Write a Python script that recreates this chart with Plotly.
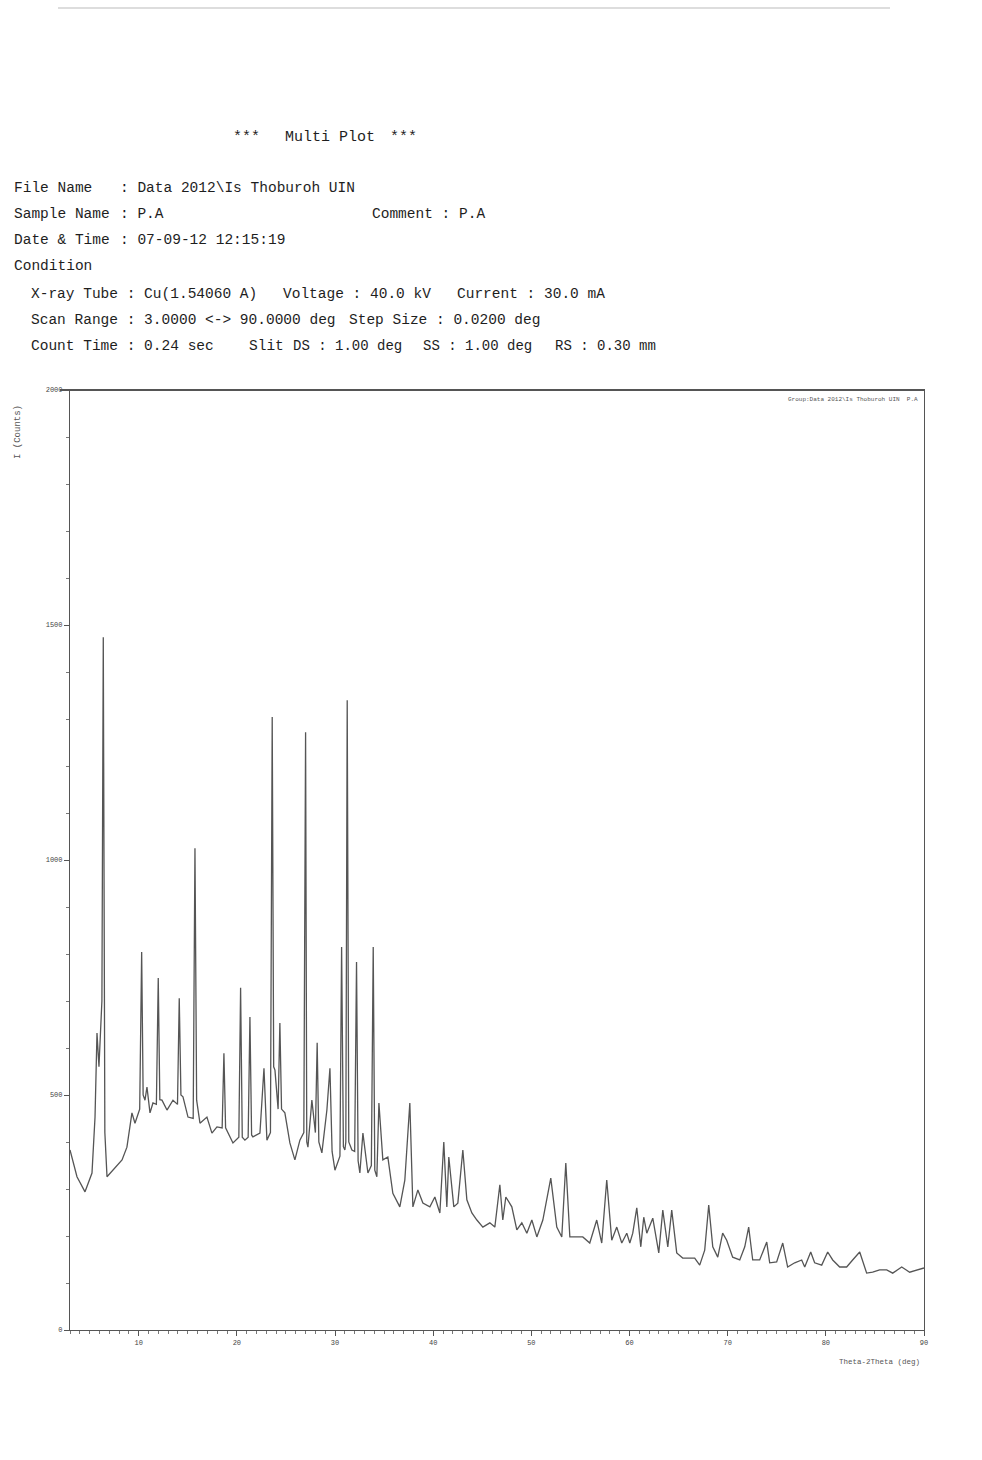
import plotly.graph_objects as go

# XRD scan, Cu K-alpha, 3-90 deg 2-theta
two_theta = [
    3.00, 3.20, 3.71, 4.53, 5.24, 5.55, 5.75, 5.95, 6.25, 6.39, 6.55, 6.77,
    7.38, 8.30, 8.80, 9.31, 9.62, 10.10, 10.30, 10.45, 10.64, 10.84, 11.15,
    11.45, 11.80, 11.99, 12.15, 12.37, 12.88, 13.49, 13.95, 14.13, 14.30,
    14.51, 15.02, 15.55, 15.73, 15.90, 16.24, 16.95, 17.46, 17.97, 18.50,
    18.68, 18.85, 19.09, 19.60, 20.20, 20.38, 20.55, 20.82, 21.15, 21.33,
    21.50, 21.63, 22.35, 22.76, 23.06, 23.42, 23.60, 23.75, 23.88, 24.20,
    24.38, 24.55, 24.89, 25.40, 25.91, 26.42, 26.82, 27.00, 27.12, 27.24,
    27.64, 28.00, 28.18, 28.35, 28.66, 29.17, 29.48, 29.70, 29.99, 30.50,
    30.67, 30.85, 31.00, 31.10, 31.24, 31.40, 31.72, 32.00, 32.19, 32.35,
    32.53, 32.84, 33.35, 33.70, 33.89, 34.05, 34.26, 34.47, 34.87, 35.38,
    35.89, 36.60, 37.11, 37.62, 37.93, 38.44, 38.95, 39.66, 40.17, 40.68,
    41.08, 41.39, 41.59, 42.10, 42.51, 43.02, 43.43, 43.94, 44.45, 45.06,
    45.77, 46.28, 46.79, 47.09, 47.40, 48.01, 48.52, 49.03, 49.54, 50.05,
    50.56, 51.17, 51.98, 52.59, 53.10, 53.51, 53.92, 54.63, 55.24, 55.95,
    56.66, 57.17, 57.68, 58.19, 58.70, 59.21, 59.72, 60.03, 60.33, 60.74,
    61.15, 61.45, 61.76, 62.37, 62.98, 63.39, 63.90, 64.30, 64.81, 65.42,
    66.14, 66.64, 67.15, 67.66, 68.07, 68.48, 68.99, 69.49, 69.90, 70.51,
    71.23, 71.74, 72.14, 72.55, 73.26, 73.98, 74.28, 74.99, 75.61, 76.11,
    76.83, 77.54, 77.85, 78.46, 78.86, 79.58, 80.19, 80.70, 81.41, 82.12,
    82.73, 83.45, 84.16, 84.77, 85.48, 86.20, 86.81, 87.73, 88.54, 89.25,
    90.00,
]
counts = [
    383, 368, 326, 294, 334, 453, 632, 560, 700, 1474, 420, 326,
    340, 362, 389, 462, 440, 470, 804, 500, 489, 517, 462,
    483, 480, 749, 490, 489, 468, 489, 480, 706, 500,
    496, 453, 450, 1025, 489, 440, 453, 419, 432, 430,
    589, 430, 419, 398, 410, 728, 410, 404, 410, 666,
    415, 411, 419, 557, 404, 420, 1304, 560, 553, 470,
    653, 470, 462, 398, 362, 404, 420, 1272, 400, 389,
    489, 420, 611, 400, 377, 468, 557, 380, 340, 370,
    815, 390, 383, 400, 1340, 400, 383, 380, 783, 360,
    334, 419, 334, 350, 815, 340, 326, 483, 362, 368,
    291, 262, 319, 483, 262, 298, 270, 262, 283, 249,
    400, 262, 368, 262, 270, 383, 277, 249, 234, 219,
    228, 219, 309, 234, 283, 262, 213, 228, 206, 234,
    198, 234, 323, 219, 198, 355, 198, 198, 198, 185,
    234, 185, 319, 191, 219, 185, 206, 185, 206, 260,
    177, 240, 206, 238, 164, 255, 177, 255, 164, 153,
    153, 153, 138, 170, 266, 177, 155, 206, 191, 155,
    149, 177, 219, 149, 149, 187, 143, 145, 185, 134,
    143, 149, 134, 166, 143, 138, 166, 149, 134, 134,
    149, 166, 121, 123, 128, 128, 121, 134, 123, 128,
    132,
]

x_ticks = [10, 20, 30, 40, 50, 60, 70, 80, 90]
y_ticks = [0, 500, 1000, 1500, 2000]

W, H = 982, 1460
L, R, T, B = 70, 924, 390, 1330


def px_x(px):
    return (px - L) / (R - L)


def px_y(py):
    return (B - py) / (B - T)


MONO = "Liberation Mono, Courier New, monospace"
INK = "#1e1e1e"

fig = go.Figure()
fig.add_trace(go.Scatter(
    x=two_theta, y=counts, mode="lines",
    line=dict(color="#555555", width=1.3),
    hoverinfo="skip", showlegend=False,
))

axis_common = dict(
    showline=True, linecolor="#555555", linewidth=1.2, mirror=True,
    showgrid=False, zeroline=False, ticks="outside", ticklen=5,
    tickcolor="#555555", tickfont=dict(family=MONO, size=7, color="#444444"),
)
fig.update_xaxes(
    range=[3, 90], tickvals=x_ticks, ticktext=[str(v) for v in x_ticks],
    minor=dict(dtick=1, ticks="outside", ticklen=3, tickcolor="#777777"),
    **axis_common,
)
fig.update_yaxes(
    range=[0, 2000], tickvals=y_ticks, ticktext=[str(v) for v in y_ticks],
    minor=dict(dtick=100, ticks="outside", ticklen=3, tickcolor="#777777"),
    **axis_common,
)

annotations = []


def text(px, py, s, size=14.5, color=INK, anchor="left", angle=0):
    annotations.append(dict(
        x=px_x(px), y=px_y(py), xref="paper", yref="paper",
        text=s, showarrow=False, xanchor=anchor, yanchor="middle",
        textangle=angle, font=dict(family=MONO, size=size, color=color),
    ))


# Report header
text(231, 138, "***", size=15)
text(283, 138, "Multi Plot", size=15)
text(388, 138, "***", size=15)

text(12, 188, "File Name")
text(118, 188, ": Data 2012\\Is Thoburoh UIN")
text(12, 214, "Sample Name")
text(118, 214, ": P.A")
text(370, 214, "Comment : P.A")
text(12, 240, "Date &amp; Time")
text(118, 240, ": 07-09-12 12:15:19")
text(12, 266, "Condition")
text(29, 294, "X-ray Tube : Cu(1.54060 A)")
text(281, 294, "Voltage : 40.0 kV")
text(455, 294, "Current : 30.0 mA")
text(29, 320, "Scan Range : 3.0000 &lt;-&gt; 90.0000 deg")
text(347, 320, "Step Size : 0.0200 deg")
text(29, 346, "Count Time : 0.24 sec")
text(247, 346, "Slit")
text(291, 346, "DS : 1.00 deg", size=14)
text(421, 346, "SS : 1.00 deg", size=14)
text(553, 346, "RS : 0.30 mm", size=14)

# Axis captions and data-set tag
text(18, 432, "I (Counts)", size=9, color="#555555", anchor="center", angle=-90)
text(922, 1362, "Theta-2Theta (deg)", size=7.5, color="#555555", anchor="right")
text(920, 399, "Group:Data 2012\\Is Thoburoh UIN  P.A", size=6, color="#555555",
     anchor="right")

shapes = [
    # heavier top frame edge
    dict(type="line", xref="paper", yref="paper", x0=px_x(60), x1=1.0,
         y0=1.0, y1=1.0, line=dict(color="#555555", width=2.2)),
    # faint rule across the top of the sheet
    dict(type="line", xref="paper", yref="paper", x0=px_x(58), x1=px_x(890),
         y0=px_y(8), y1=px_y(8), line=dict(color="#bbbbbb", width=1)),
]

fig.update_layout(
    width=W, height=H, autosize=False,
    margin=dict(l=L, r=W - R, t=T, b=H - B, pad=0),
    paper_bgcolor="white", plot_bgcolor="white",
    annotations=annotations, shapes=shapes, showlegend=False,
)

fig.write_html("out.html")
